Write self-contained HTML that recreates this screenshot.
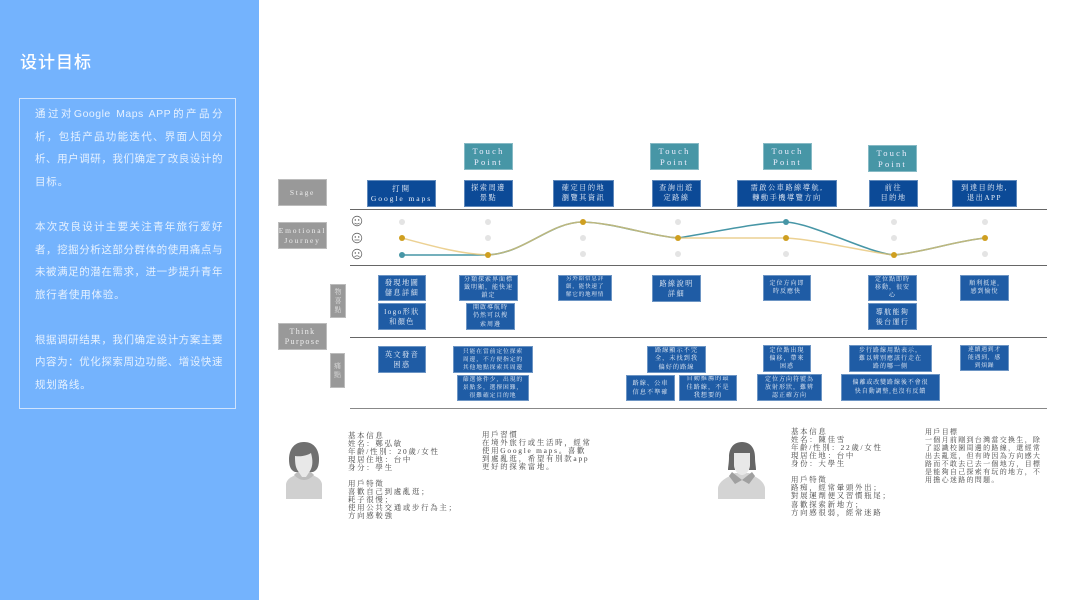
<!DOCTYPE html>
<html lang="zh">
<head>
<meta charset="utf-8">
<title>设计目标</title>
<style>
html,body{margin:0;padding:0;background:#fff}
#p{position:relative;width:1066px;height:600px;overflow:hidden;background:#fff;font-family:"Liberation Serif","Noto Serif CJK SC",serif}
#p div{box-sizing:border-box}
#side{position:absolute;left:0;top:0;width:259px;height:600px;background:#74b3fd}
#title{position:absolute;left:20px;top:51px;font:500 17px/24px "Liberation Sans","Noto Sans CJK SC",sans-serif;letter-spacing:1px;color:#fff}
#frame{position:absolute;left:19px;top:98px;width:217px;height:311px;border:1px solid #cfe3fd}
.l{position:absolute;left:35px;width:188px;height:18px;font:10.5px/18px "Liberation Sans","Noto Sans CJK SC",sans-serif;color:#e6f1ff;text-align:justify;text-align-last:justify;letter-spacing:.5px;filter:blur(.15px)}
.l.e{text-align-last:left;letter-spacing:.8px}
.b{position:absolute;display:flex;align-items:center;justify-content:center;text-align:center;color:#e8eef7;font-size:6.6px;line-height:8.4px;letter-spacing:1.4px;overflow:hidden;border:1px solid rgba(255,255,255,.35);filter:blur(.3px)}
.s{background:#0c4a97;font-size:7.2px;line-height:9.6px;letter-spacing:1.5px}
.r{background:#1f5ca5}
.t{background:#4796a6;color:#eef;font-size:8.5px;line-height:10.5px;letter-spacing:2.2px}
.g{background:#999;color:#eee;font-size:7.5px;line-height:9.5px;letter-spacing:1.7px}
.v{background:#999;color:#ddd;font-size:7px;line-height:9px;letter-spacing:0}
.h{position:absolute;left:350px;width:697px;height:1px;background:#666}
.c{position:absolute;font-size:7.4px;line-height:8px;letter-spacing:1.75px;color:#444;white-space:nowrap;filter:blur(.3px)}
svg{position:absolute;left:0;top:0}
</style>
</head>
<body>
<div id="p">
<div id="side"></div>
<div id="title">设计目标</div>
<div id="frame"></div>
<div class="l" style="top:105px">通过对Google Maps APP的产品分</div>
<div class="l" style="top:128px">析，包括产品功能迭代、界面人因分</div>
<div class="l" style="top:150px">析、用户调研，我们确定了改良设计的</div>
<div class="l e" style="top:173px">目标。</div>
<div class="l" style="top:218px">本次改良设计主要关注青年旅行爱好</div>
<div class="l" style="top:241px">者，挖掘分析这部分群体的使用痛点与</div>
<div class="l" style="top:263px">未被满足的潜在需求，进一步提升青年</div>
<div class="l e" style="top:286px">旅行者使用体验。</div>
<div class="l" style="top:331px">根据调研结果，我们确定设计方案主要</div>
<div class="l" style="top:353px">内容为：优化探索周边功能、增设快速</div>
<div class="l e" style="top:376px">规划路线。</div>

<div class="b t" style="left:464px;top:143px;width:49px;height:27px">Touch<br>Point</div>
<div class="b t" style="left:650px;top:143px;width:49px;height:27px">Touch<br>Point</div>
<div class="b t" style="left:763px;top:143px;width:49px;height:27px">Touch<br>Point</div>
<div class="b t" style="left:868px;top:145px;width:49px;height:27px">Touch<br>Point</div>

<div class="b g" style="left:278px;top:179px;width:49px;height:27px">Stage</div>
<div class="b g" style="left:278px;top:222px;width:49px;height:27px;letter-spacing:1.8px">Emotional<br>Journey</div>
<div class="b g" style="left:278px;top:323px;width:49px;height:27px;letter-spacing:1.4px;font-size:8px">Think<br>Purpose</div>
<div class="b v" style="left:330px;top:284px;width:16px;height:34px">物<br>喜<br>點</div>
<div class="b v" style="left:330px;top:353px;width:15px;height:35px">痛<br>點</div>

<div class="b s" style="left:367px;top:180px;width:69px;height:27px;letter-spacing:1.9px;font-size:7.6px">打開<br>Google maps</div>
<div class="b s" style="left:464px;top:180px;width:49px;height:27px">探索周邊<br>景點</div>
<div class="b s" style="left:553px;top:180px;width:61px;height:27px">確定目的地<br>瀏覽其資訊</div>
<div class="b s" style="left:652px;top:180px;width:49px;height:27px">查詢出遊<br>定路線</div>
<div class="b s" style="left:737px;top:180px;width:100px;height:27px">需啟公車路線導航,<br>轉動手機導覽方向</div>
<div class="b s" style="left:869px;top:180px;width:49px;height:27px">前往<br>目的地</div>
<div class="b s" style="left:952px;top:180px;width:65px;height:27px">到達目的地,<br>退出APP</div>

<div class="h" style="top:209px"></div>
<div class="h" style="top:265px"></div>
<div class="h" style="top:337px"></div>
<div class="h" style="top:408px;background:#888"></div>

<svg width="1066" height="600" viewBox="0 0 1066 600">
<g fill="#e4e4e4">
<circle cx="402" cy="222" r="3"/><circle cx="488" cy="222" r="3"/><circle cx="488" cy="238" r="3"/><circle cx="583" cy="238" r="3"/><circle cx="583" cy="254" r="3"/>
<circle cx="678" cy="222" r="3"/><circle cx="678" cy="254" r="3"/><circle cx="786" cy="254" r="3"/>
<circle cx="894" cy="222" r="3"/><circle cx="894" cy="238" r="3"/><circle cx="985" cy="222" r="3"/><circle cx="985" cy="254" r="3"/>
</g>
<path d="M402 255 L488 255 C525 253 550 222 583 222 C615 223 650 236 678 238 C710 233 760 222 786 222 C815 224 865 252 894 255 C925 252 955 241 985 238" fill="none" stroke="#4796a6" stroke-width="1.6"/>
<path d="M402 238 C432 246 460 254 488 255 C525 253 550 222 583 222 C615 223 650 236 678 238 L786 238 C820 240 865 252 894 255 C925 252 955 241 985 238" fill="none" stroke="#e5c26f" stroke-width="1.5" stroke-opacity=".75"/>
<circle cx="402" cy="255" r="3" fill="#4796a6"/>
<circle cx="402" cy="238" r="3" fill="#cf9f20"/><circle cx="488" cy="255" r="3" fill="#cf9f20"/><circle cx="583" cy="222" r="3" fill="#cf9f20"/>
<circle cx="678" cy="238" r="3" fill="#cf9f20"/><circle cx="786" cy="222" r="3" fill="#4796a6"/><circle cx="786" cy="238" r="3" fill="#cf9f20"/>
<circle cx="894" cy="255" r="3" fill="#cf9f20"/><circle cx="985" cy="238" r="3" fill="#cf9f20"/>
<g fill="none" stroke="#666" stroke-width=".8">
<circle cx="357" cy="221" r="4.8"/><path d="M354.5 223 Q357 225 359.5 223"/>
<circle cx="357" cy="238" r="4.8"/><path d="M354.5 240 H359.5"/>
<circle cx="357" cy="254" r="4.8"/><path d="M354.5 257 Q357 254.5 359.5 257"/>
</g>
<g fill="#555">
<circle cx="355.3" cy="220" r=".7"/><circle cx="358.7" cy="220" r=".7"/><circle cx="355.3" cy="237" r=".7"/><circle cx="358.7" cy="237" r=".7"/><circle cx="355.3" cy="253" r=".7"/><circle cx="358.7" cy="253" r=".7"/>
</g>
<!-- avatar 1 -->
<path d="M286 499 V484 Q287 478 296 475 H312 Q321 478 322 484 V499 Z" fill="#d0d0d0"/>
<path d="M294 475 Q304 485 314 475 L311 472 H297 Z" fill="#bcbcbc"/>
<path d="M304 442 C293 442 289 451 289 459 C289 465 290 470 295 472 H313 C318 470 319 465 319 459 C319 451 315 442 304 442 Z" fill="#707070"/>
<path d="M295 456 C302 457 308 455 311 453 C313 460 313 466 310 471 L306 477 H302 L298 471 C295 467 295 461 295 456 Z" fill="#e8e8e8"/>
<!-- avatar 2 -->
<path d="M718 499 V488 Q719 481 730 476 L735 473 H749 L754 476 Q764 481 765 488 V499 Z" fill="#d4d4d4"/>
<path d="M732 472 L742 480 L752 472 L755 476 L749 484 L742 480 L735 484 L729 476 Z" fill="#a0a0a0"/>
<path d="M742 442 C733 442 729 449 729 457 C729 463 728 467 728 470 H735 V466 H749 V470 H756 C756 466 755 463 755 457 C755 449 751 442 742 442 Z" fill="#666"/>
<path d="M734 453 H750 V465 C750 470 746 475 742 475 C738 475 734 470 734 465 Z" fill="#e8e8e8"/>
</svg>

<div class="b r" style="left:378px;top:275px;width:48px;height:26px;font-size:7.2px;line-height:10px">發現地圖<br>儲息詳細</div>
<div class="b r" style="left:378px;top:303px;width:48px;height:27px;font-size:7.2px;line-height:10px">logo形狀<br>和顏色</div>
<div class="b r" style="left:459px;top:275px;width:59px;height:26px;font-size:6px;line-height:8px;letter-spacing:1px">分類探索界面標<br>籤明顯，能快速<br>鎖定</div>
<div class="b r" style="left:466px;top:303px;width:49px;height:27px;font-size:6px;line-height:8.2px;letter-spacing:1px">開啟導航時<br>仍然可以搜<br>索周邊</div>
<div class="b r" style="left:558px;top:275px;width:54px;height:26px;font-size:5.6px;line-height:7.8px;letter-spacing:.8px">另外給信息詳<br>細，能快速了<br>解它的地理情</div>
<div class="b r" style="left:652px;top:275px;width:49px;height:27px;font-size:7.2px;line-height:10px">路線說明<br>詳細</div>
<div class="b r" style="left:763px;top:275px;width:48px;height:26px;font-size:6px;line-height:8.4px;letter-spacing:1px">定位方向即<br>時反應快</div>
<div class="b r" style="left:868px;top:275px;width:49px;height:26px;font-size:6px;line-height:8px;letter-spacing:1px">定位點即時<br>移動，很安<br>心</div>
<div class="b r" style="left:868px;top:303px;width:49px;height:27px;font-size:7px;line-height:10px">導航能夠<br>後台運行</div>
<div class="b r" style="left:960px;top:275px;width:49px;height:26px;font-size:6px;line-height:8.4px;letter-spacing:1px">順利抵達,<br>感到愉悅</div>

<div class="b r" style="left:378px;top:346px;width:48px;height:27px;font-size:7.2px;line-height:10px">英文發音<br>困惑</div>
<div class="b r" style="left:453px;top:346px;width:80px;height:27px;font-size:5.8px;line-height:8px;letter-spacing:.9px">只能在當前定位探索<br>周邊，不方便指定的<br>其他地點探索其周邊</div>
<div class="b r" style="left:457px;top:375px;width:72px;height:26px;font-size:5.8px;line-height:8px;letter-spacing:.9px">篩選條件少，出現的<br>景點多，選擇困難，<br>很難確定目的地</div>
<div class="b r" style="left:647px;top:346px;width:59px;height:27px;font-size:6.2px;line-height:8.4px;letter-spacing:1px">路線顯示不完<br>全，未找到我<br>偏好的路線</div>
<div class="b r" style="left:626px;top:375px;width:49px;height:26px;font-size:6.2px;line-height:9px;letter-spacing:1px">路線、公車<br>信息不準確</div>
<div class="b r" style="left:679px;top:375px;width:58px;height:26px;font-size:6.2px;line-height:8.4px;letter-spacing:1px">自動推薦的最<br>佳路線，不是<br>我想要的</div>
<div class="b r" style="left:763px;top:345px;width:48px;height:27px;font-size:6px;line-height:8px;letter-spacing:1px">定位點出現<br>偏移，帶來<br>困惑</div>
<div class="b r" style="left:757px;top:374px;width:65px;height:27px;font-size:6px;line-height:8px;letter-spacing:1px">定位方向符號為<br>放射形狀，難辨<br>認正確方向</div>
<div class="b r" style="left:849px;top:345px;width:83px;height:27px;font-size:6px;line-height:8px;letter-spacing:1px">步行路線用點表示，<br>難以辨別應該行走在<br>路的哪一側</div>
<div class="b r" style="left:841px;top:374px;width:99px;height:27px;font-size:6px;line-height:8.4px;letter-spacing:.9px">偏離或改變路線後不會很<br>快自動調整,也沒有反饋</div>
<div class="b r" style="left:960px;top:345px;width:49px;height:26px;font-size:5.8px;line-height:8px;letter-spacing:.8px">連續遇到才<br>能遇到，感<br>到煩躁</div>

<div class="c" style="left:348px;top:432px">基本信息<br>姓名：鄭弘敏<br>年齡/性別：20歲/女性<br>現居住地：台中<br>身分：學生</div>
<div class="c" style="left:348px;top:480px">用戶特徵<br>喜歡自己到處亂逛；<br>耗子很慢；<br>使用公共交通或步行為主；<br>方向感較強</div>
<div class="c" style="left:482px;top:431px">用戶習慣<br>在境外旅行或生活時，經常<br>使用Google maps。喜歡<br>到處亂逛，希望有別款app<br>更好的探索當地。</div>
<div class="c" style="left:791px;top:428px">基本信息<br>姓名：陳佳雪<br>年齡/性別：22歲/女性<br>現居住地：台中<br>身份：大學生</div>
<div class="c" style="left:791px;top:476px;line-height:8.2px">用戶特徵<br>路痴，經常暈頭外出；<br>對展運劑便又習慣瓶尾；<br>喜歡探索新地方；<br>方向感很弱，經常迷路</div>
<div class="c" style="left:925px;top:428px;font-size:7px;letter-spacing:1.3px">用戶目標<br>一個月前剛到台灣當交換生，除<br>了認識校園周邊的路線，還經常<br>出去亂逛，但有時因為方向感大<br>路而不敢去已去一個地方，目標<br>是能夠自己探索有玩的地方，不<br>用擔心迷路的問題。</div>
</div>
</body>
</html>
